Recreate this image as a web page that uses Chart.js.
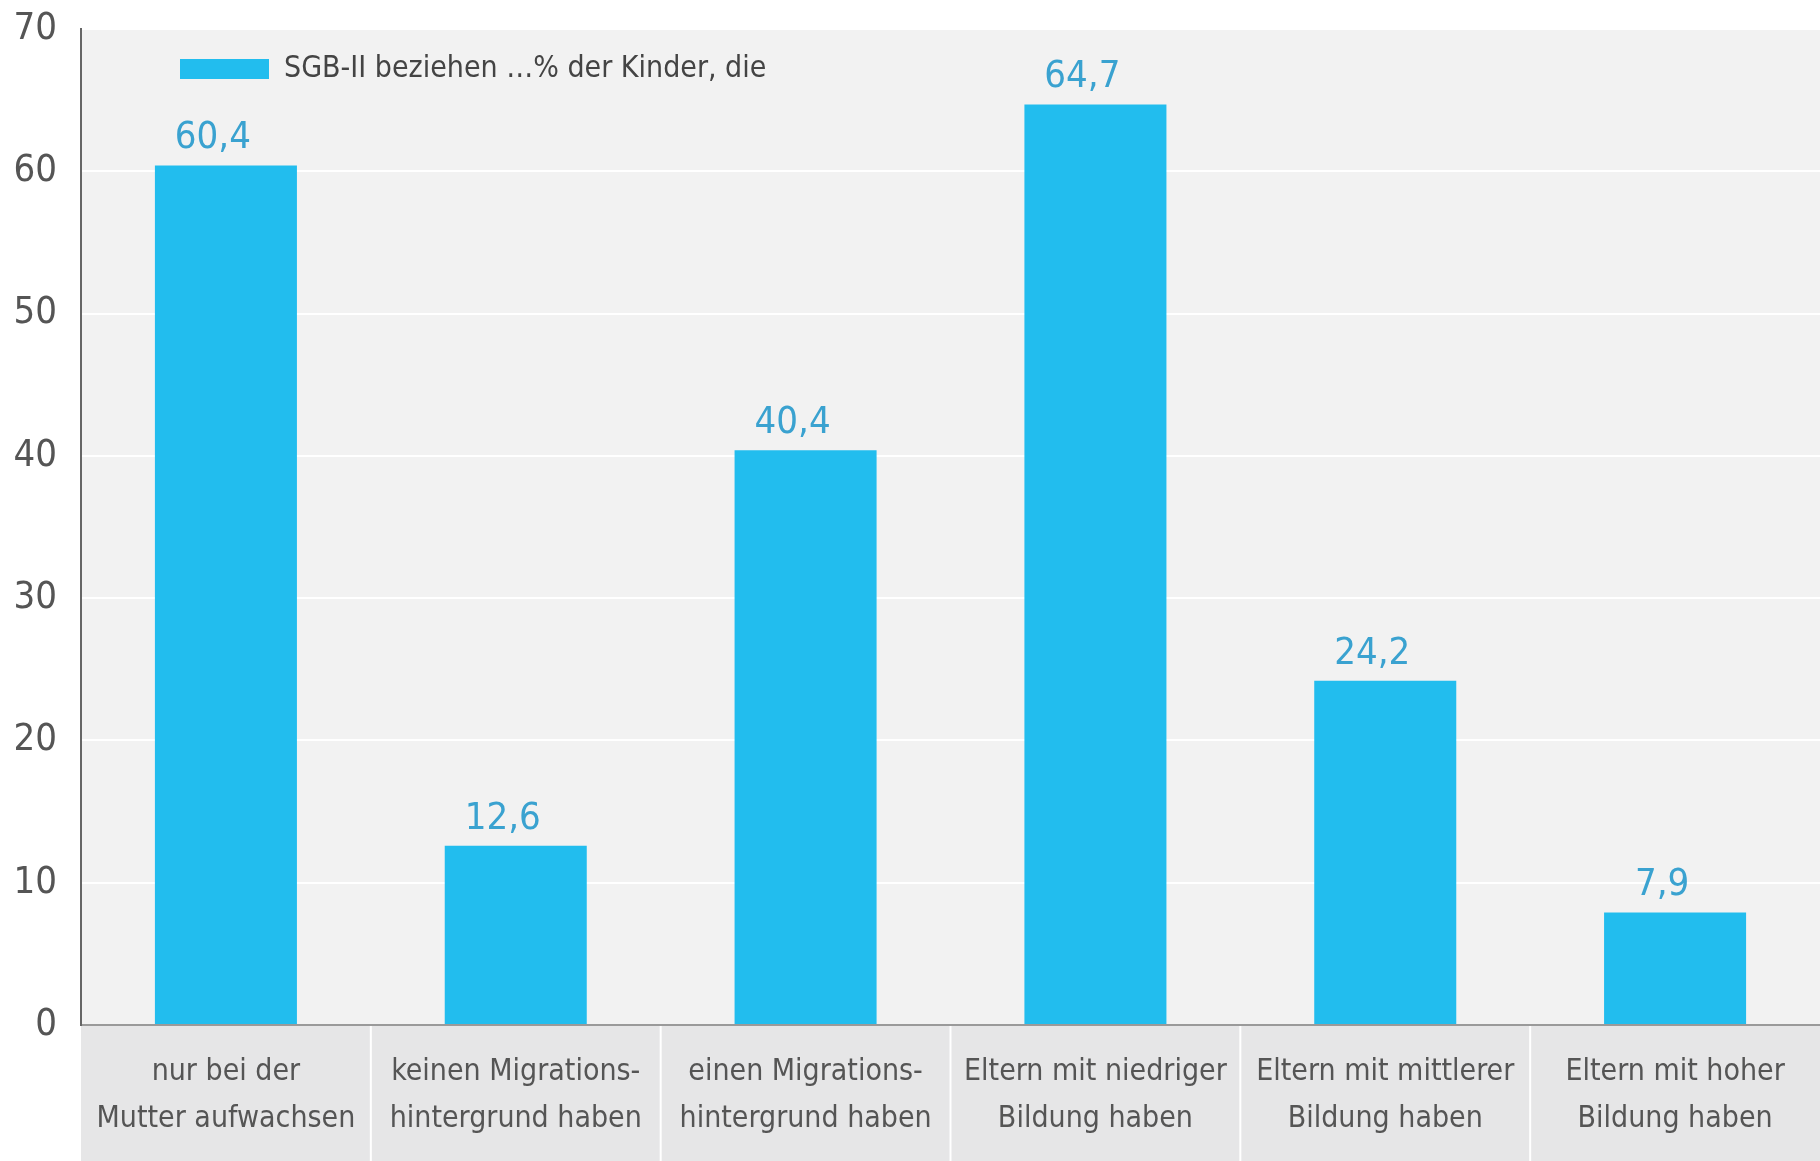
<!DOCTYPE html>
<html>
<head>
<meta charset="utf-8">
<script src="https://cdn.jsdelivr.net/npm/chart.js@4.4.1/dist/chart.umd.min.js"></script>
<style>
  body { margin: 0; background: #fff; }
</style>
</head>
<body>
<canvas id="myChart" width="1820" height="1161"></canvas>
<script>
'use strict';

// Categories (two lines each)
const categories = [
  ['nur bei der', 'Mutter aufwachsen'],
  ['keinen Migrations-', 'hintergrund haben'],
  ['einen Migrations-', 'hintergrund haben'],
  ['Eltern mit niedriger', 'Bildung haben'],
  ['Eltern mit mittlerer', 'Bildung haben'],
  ['Eltern mit hoher', 'Bildung haben'],
];

// Values
const seriesName = 'SGB-II beziehen …% der Kinder, die';
const values = [60.4, 12.6, 40.4, 64.7, 24.2, 7.9];

// y axis
const yMin = 0;
const yMax = 70;
const yStep = 10;

const fontFamily = "'Liberation Sans Narrow', 'DejaVu Sans Condensed', 'Roboto', sans-serif";
const barColor = '#22bdee';
const labelColor = '#3aa2d0';
const textColor = '#555555';

// plot background + grey band behind the category labels
const backgroundPlugin = {
  id: 'backgrounds',
  beforeDraw(chart) {
    const ctx = chart.ctx;
    const area = chart.chartArea;
    const x = chart.scales.x;
    ctx.save();
    ctx.fillStyle = '#f2f2f2';
    ctx.fillRect(area.left, area.top, chart.width - area.left, area.bottom - area.top);
    ctx.fillStyle = '#e6e6e7';
    ctx.fillRect(area.left, area.bottom, chart.width - area.left, chart.height - area.bottom);
    // white separators between categories
    ctx.strokeStyle = '#ffffff';
    ctx.lineWidth = 2;
    for (let i = 0; i < categories.length - 1; i++) {
      const px = (x.getPixelForValue(i) + x.getPixelForValue(i + 1)) / 2;
      ctx.beginPath();
      ctx.moveTo(px, area.bottom);
      ctx.lineTo(px, chart.height);
      ctx.stroke();
    }
    ctx.restore();
  }
};

// value labels above the bars
const valueLabelPlugin = {
  id: 'valueLabels',
  afterDatasetsDraw(chart) {
    const ctx = chart.ctx;
    const meta = chart.getDatasetMeta(0);
    ctx.save();
    ctx.fillStyle = labelColor;
    ctx.font = '38px ' + fontFamily;
    ctx.textAlign = 'center';
    ctx.textBaseline = 'bottom';
    meta.data.forEach(function (bar, i) {
      const txt = values[i].toFixed(1).replace('.', ',');
      ctx.fillText(txt, bar.x - 13, bar.y - 8);
    });
    ctx.restore();
  }
};

// move the legend into the plot, top-left
const legendPlacePlugin = {
  id: 'legendPlace',
  afterLayout(chart) {
    chart.legend.left = 170;
    chart.legend.top = 44;
  }
};

let ctx = document.getElementById('myChart').getContext('2d');
let chart = new Chart(ctx, {
  type: 'bar',
  data: {
    labels: categories,
    datasets: [{
      label: seriesName,
      data: values,
      backgroundColor: barColor,
      borderWidth: 0,
      barPercentage: 0.49,
      categoryPercentage: 1
    }]
  },
  options: {
    responsive: false,
    animation: false,
    layout: {
      padding: { top: 29, right: 0, left: 0, bottom: 0 }
    },
    plugins: {
      legend: {
        position: 'chartArea',
        align: 'start',
        labels: {
          boxWidth: 89,
          boxHeight: 20,
          padding: 10,
          color: '#444444',
          font: { family: fontFamily, size: 30 }
        }
      },
      tooltip: { enabled: false }
    },
    scales: {
      x: {
        grid: { display: false, drawTicks: false },
        border: { display: true, color: '#9a9a9a', width: 2 },
        ticks: {
          color: textColor,
          padding: 24,
          maxRotation: 0,
          autoSkip: false,
          font: { family: fontFamily, size: 30, lineHeight: 1.55 }
        },
        afterFit(scale) { scale.height = 136; }
      },
      y: {
        min: yMin,
        max: yMax,
        grid: { color: '#ffffff', lineWidth: 2, drawTicks: false },
        border: { display: true, color: '#666666', width: 2 },
        ticks: {
          stepSize: yStep,
          color: textColor,
          padding: 24,
          font: { family: fontFamily, size: 38 }
        },
        afterFit(scale) {
          scale.width = 81;
          scale.paddingTop = 0;
          scale.paddingBottom = 0;
        }
      }
    }
  },
  plugins: [backgroundPlugin, valueLabelPlugin, legendPlacePlugin]
});
</script>
</body>
</html>
